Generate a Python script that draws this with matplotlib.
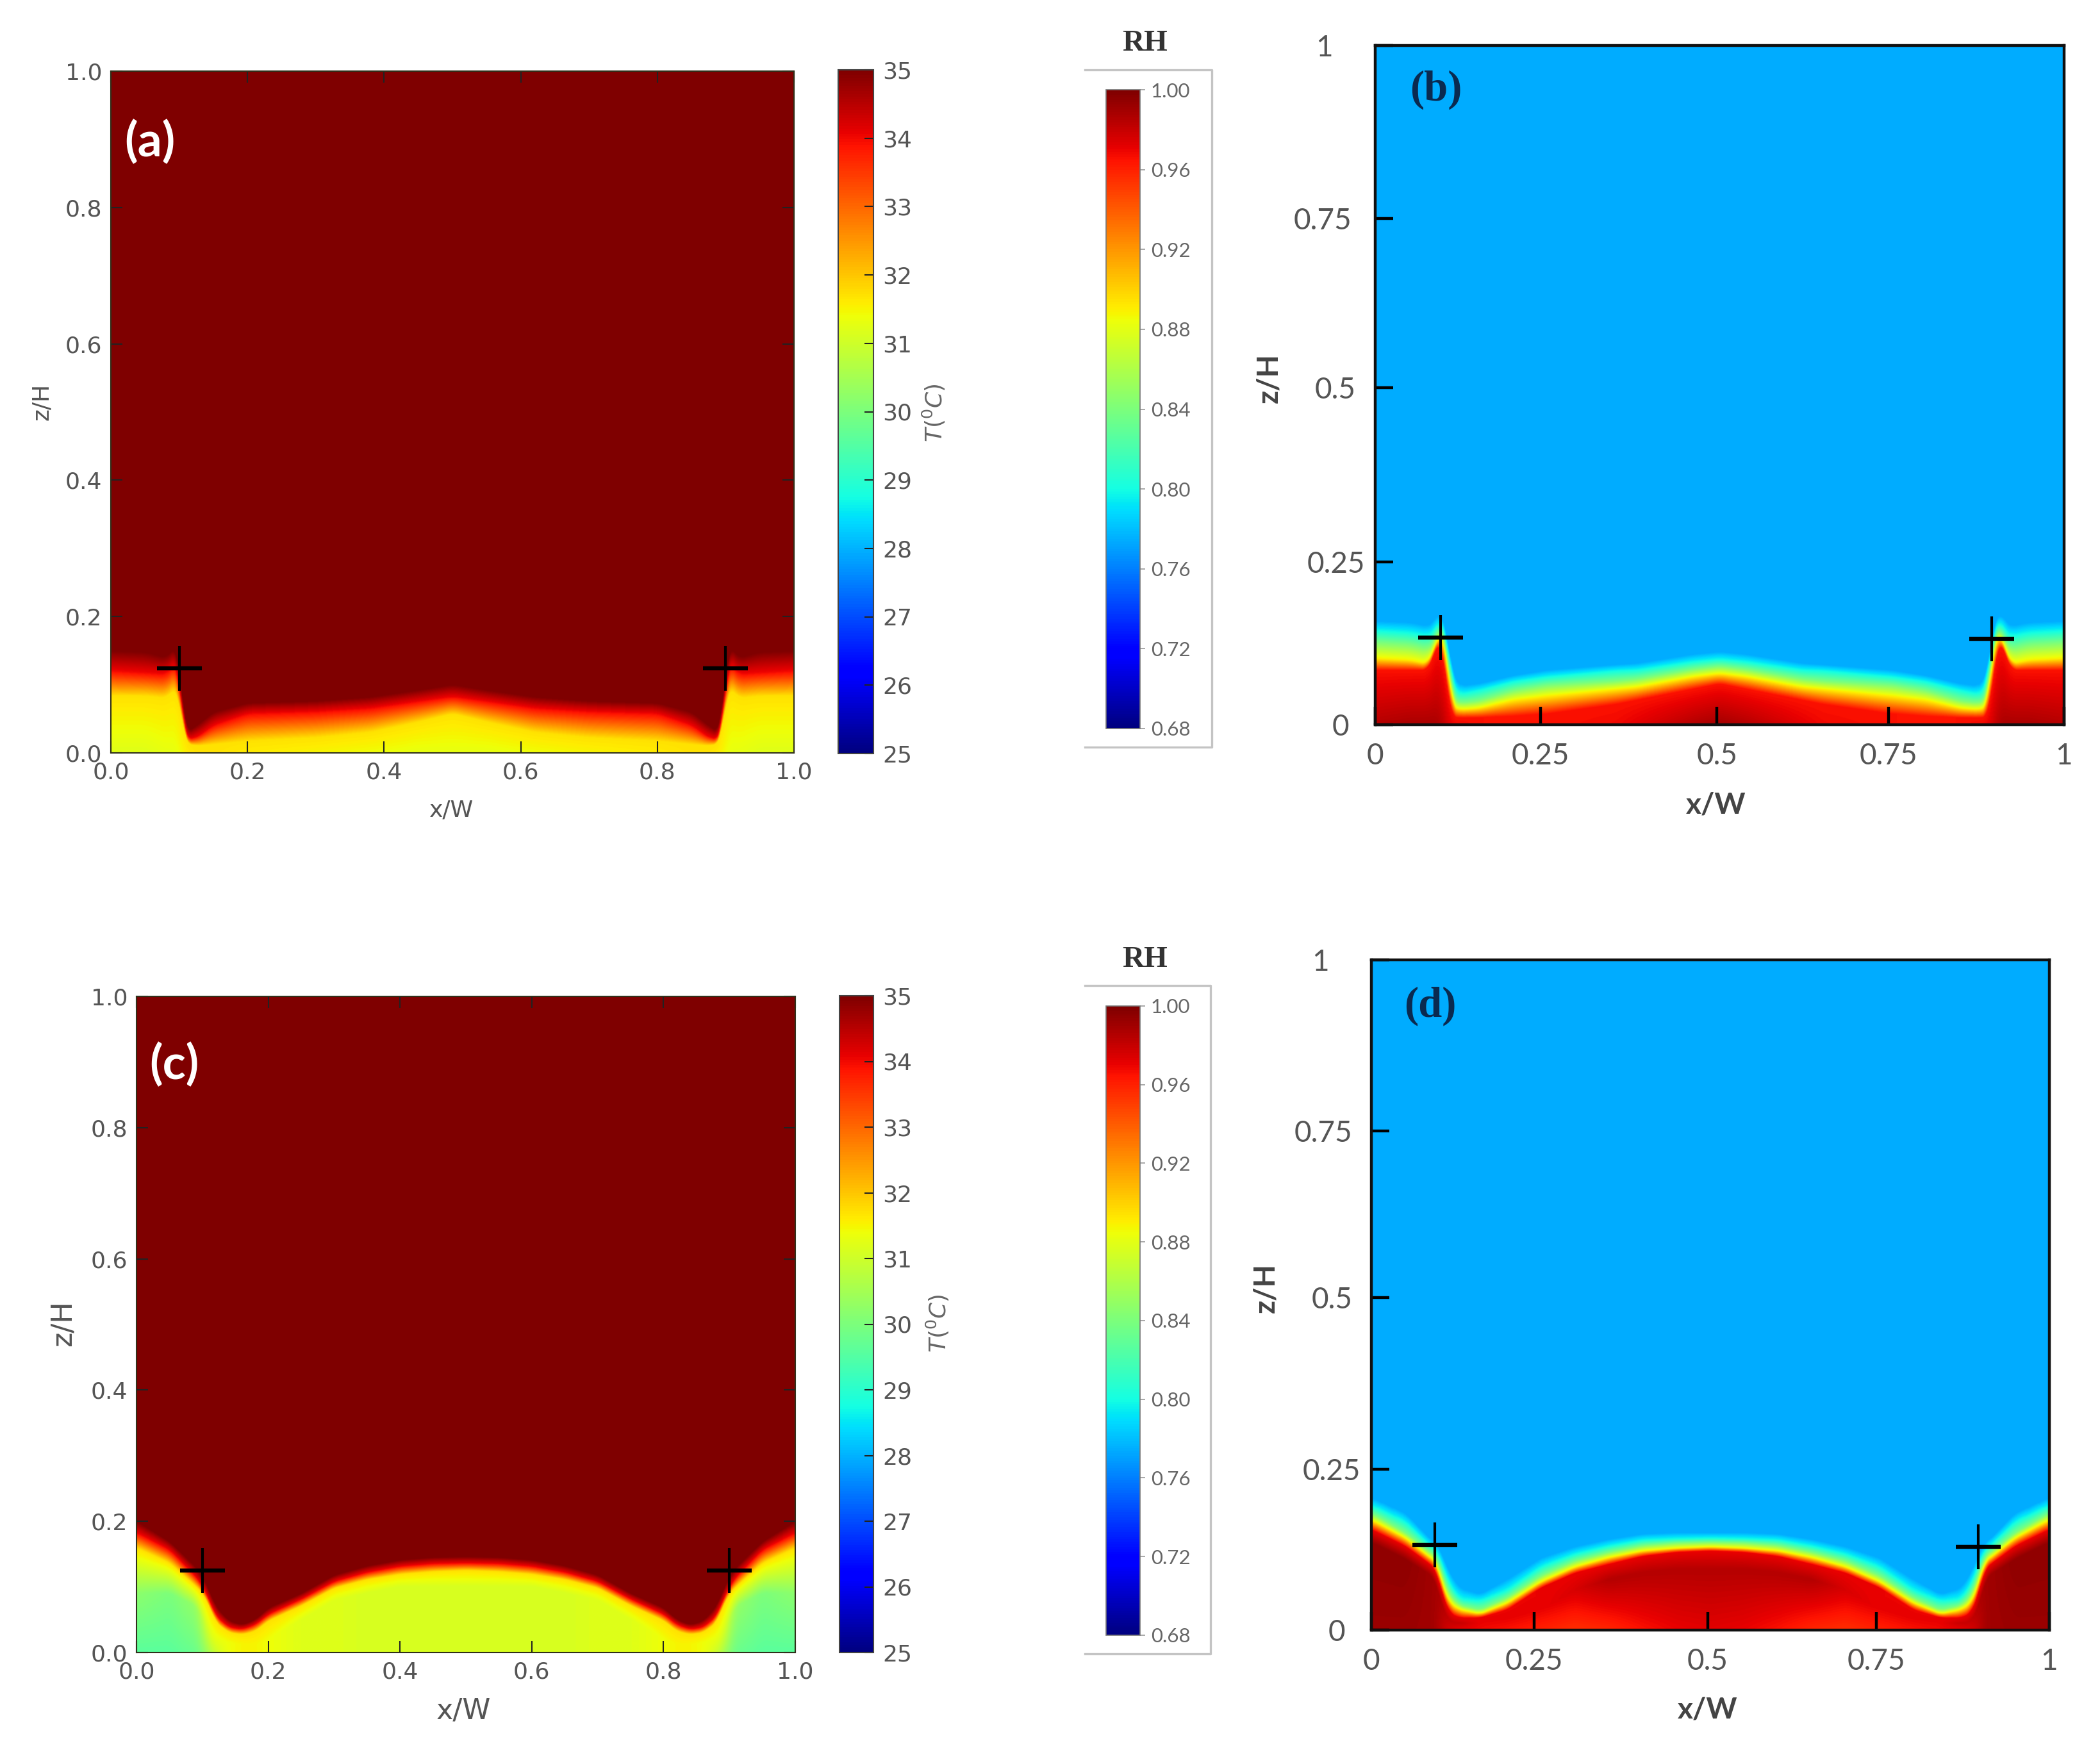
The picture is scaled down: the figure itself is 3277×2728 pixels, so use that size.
import numpy as np
import matplotlib
matplotlib.use("Agg")
import matplotlib.pyplot as plt
from matplotlib.lines import Line2D

W, H = 3277, 2728

# half width profiles, right half is the mirror image
# heights z/H where the field reaches each level
a_x = [0, .05, .08, .09, .095, .10, .105, .11, .125, .15, .2, .3, .38, .45, .5]
a_floor = [31.2, 31.2, 31.3, 31.3, 31.3, 31.4, 31.5, 31.6, 31.7, 31.7, 31.6, 31.5, 31.4, 31.3, 31.3]
a_levels = [31.7, 34, 35]
a_heights = [
    [.083, .083, .08, .09, .095, .08, .03, .013, .01, .012, .017, .022, .03, .045, .057],
    [.12, .117, .115, .125, .135, .11, .04, .02, .022, .04, .057, .06, .065, .075, .082],
    [.15, .148, .14, .15, .16, .13, .06, .03, .04, .06, .073, .076, .082, .092, .10],
]

b_x = [0, .05, .075, .085, .09, .095, .10, .105, .11, .115, .125, .15, .2, .25, .35, .38, .46, .5]
b_floor = [.985, .988, .988, .988, .988, .985, .98, .975, .97, .968, .968, .965, .965, .965, .968, .972, .985, .99]
b_levels = [.965, .89, .84, .80, .775]
b_heights = [
    [.08, .08, .08, .10, .122, .125, .09, .04, .012, .01, .01, .01, .012, .016, .03, .036, .052, .06],
    [.0975, .095, .09, .11, .13, .135, .12, .085, .03, .024, .022, .024, .036, .042, .052, .055, .07, .075],
    [.121, .118, .112, .12, .14, .145, .13, .105, .05, .035, .032, .035, .05, .058, .064, .067, .081, .086],
    [.138, .135, .13, .135, .15, .155, .14, .12, .07, .05, .045, .05, .063, .07, .079, .08, .092, .096],
    [.152, .15, .145, .15, .165, .165, .15, .13, .085, .065, .057, .06, .072, .08, .088, .09, .103, .107],
]

c_x = [0, .05, .09, .10, .11, .12, .14, .16, .18, .2, .25, .3, .35, .4, .45, .5]
c_floor = [29.6, 29.6, 29.8, 30.1, 30.6, 31.0, 31.4, 31.5, 31.5, 31.4, 31.2, 31.2, 31.1, 31.1, 31.1, 31.1]
c_inner = [30.2, 30.0, 30.3, 30.8, 31.2, 31.3, 31.4, 31.5, 31.5, 31.4, 31.2, 31.2, 31.1, 31.1, 31.1, 31.1]
c_inner_z = [.09, .09, .07, .05, .03, .02, .015, .012, .012, .02, .05, .08, .09, .1, .1, .1]
c_levels = [31.7, 34, 35]
c_heights = [
    [.159, .136, .10, .09, .07, .045, .03, .027, .032, .048, .071, .098, .111, .119, .123, .125],
    [.182, .156, .115, .10, .08, .055, .038, .035, .042, .058, .081, .108, .122, .131, .135, .136],
    [.2, .169, .13, .115, .095, .07, .048, .042, .05, .068, .09, .118, .132, .141, .145, .146],
]

d_x = [0, .05, .09, .095, .105, .115, .13, .16, .2, .25, .3, .35, .4, .45, .5]
d_floor = [.992, .992, .99, .988, .98, .975, .97, .968, .965, .96, .955, .958, .965, .97, .972]
d_inner = [.995, .995, .99, .99, .985, .98, .98, .97, .97, .97, .975, .985, .985, .985, .985]
d_inner_z = [.13, .105, .08, .07, .03, .012, .01, .01, .015, .03, .06, .075, .085, .09, .09]
d_levels = [.97, .89, .84, .80, .775]
d_heights = [
    [.15, .125, .095, .09, .05, .025, .018, .018, .03, .063, .085, .098, .11, .116, .118],
    [.164, .137, .105, .103, .065, .04, .03, .024, .04, .072, .094, .108, .118, .122, .124],
    [.174, .145, .113, .112, .08, .052, .037, .03, .048, .081, .103, .116, .126, .13, .131],
    [.185, .161, .122, .122, .095, .068, .046, .043, .059, .094, .113, .125, .134, .136, .137],
    [.197, .174, .132, .132, .11, .085, .062, .053, .075, .107, .124, .135, .143, .145, .145],
]

cross_a = ([.10, .90], [.124, .124])
cross_b = ([.095, .895], [.128, .126])
cross_c = ([.10, .90], [.125, .125])
cross_d = ([.094, .895], [.127, .124])

ticks_t = [25, 26, 27, 28, 29, 30, 31, 32, 33, 34, 35]
ticks_rh = [.68, .72, .76, .80, .84, .88, .92, .96, 1.00]
ticks_ac = [0, .2, .4, .6, .8, 1.0]
# the hand drawn ticks of (b) and (d) sit slightly off the nominal quarters
ticks_bd = [0, .24, .496, .745, 1]
labels_bd = ["0", "0.25", "0.5", "0.75", "1"]

grid_x = np.linspace(0, 1, 800)
grid_z = np.linspace(0, 1, 1600)


def mirror(x, y):
    x = np.array(x)
    y = np.array(y)
    return np.r_[x, 1 - x[-2::-1]], np.r_[y, y[-2::-1]]


def profile(x, y):
    # values along the grid, lightly smoothed so the stations dont show
    xf, yf = mirror(x, y)
    p = np.interp(grid_x, xf, yf)
    pad = np.r_[np.full(6, p[0]), p, np.full(6, p[-1])]
    return np.convolve(pad, np.ones(13) / 13, mode="valid")


def build_field(x, floor, levels, heights, inner=None, inner_z=None):
    stack = [profile(x, h) for h in heights]
    fl = profile(x, floor)
    field = np.zeros((len(grid_z), len(grid_x)))
    if inner is not None:
        inn = profile(x, inner)
        inn_z = profile(x, inner_z)
    for i in range(len(grid_x)):
        zs = [0.0]
        vs = [fl[i]]
        if inner is not None:
            zs.append(inn_z[i])
            vs.append(inn[i])
        for h, v in zip(stack, levels):
            zs.append(max(h[i], zs[-1] + 1e-4))
            vs.append(v)
        field[:, i] = np.interp(grid_z, zs, vs)
    return field


def px_axes(l, t, r, b):
    return fig.add_axes([l / W, 1 - b / H, (r - l) / W, (b - t) / H])


def px_text(x, y, s, **kw):
    fig.text(x / W, 1 - y / H, s, ha="center", va="center", **kw)


def draw_cross(ax, cross):
    # horizontal bar is heavier than the vertical one in the original
    ax.plot(cross[0], cross[1], "_", color="black", ms=50, mew=4.6, ls="none")
    ax.plot(cross[0], cross[1], "|", color="black", ms=50, mew=3.0, ls="none")


def old_panel(box, field, cross, cbox, fs_label, zlab_xy, xlab_xy, tlab_xy, letter, letter_xy):
    ax = px_axes(*box)
    im = ax.imshow(field, origin="lower", extent=[0, 1, 0, 1], aspect="auto",
                   cmap="jet", vmin=25, vmax=35, interpolation="bilinear")
    draw_cross(ax, cross)
    ax.set_xlim(0, 1)
    ax.set_ylim(0, 1)
    ax.set_xticks(ticks_ac)
    ax.set_yticks(ticks_ac)
    ax.set_xticklabels(["%.1f" % t for t in ticks_ac])
    ax.set_yticklabels(["%.1f" % t for t in ticks_ac])
    ax.tick_params(direction="in", length=13, width=1.5, labelsize=26, labelcolor="#555555",
                   color="#222222", pad=10, top=True, right=True)
    for s in ax.spines.values():
        s.set_linewidth(1.5)
        s.set_color("#30301a")
    cax = px_axes(*cbox)
    cb = fig.colorbar(im, cax=cax, ticks=ticks_t)
    cb.ax.tick_params(direction="in", length=10, width=1.5, labelsize=26, labelcolor="#555555",
                      color="#222222", pad=10)
    cb.outline.set_linewidth(1.5)
    cb.outline.set_edgecolor("#444444")
    px_text(*zlab_xy, "z/H", rotation=90, fontsize=fs_label, color="#555555")
    px_text(*xlab_xy, "x/W", fontsize=fs_label, color="#555555")
    px_text(*tlab_xy, r"$T(^{0}C)$", rotation=90, fontsize=26, color="#666666")
    px_text(*letter_xy, letter, fontsize=54, color="white", fontweight="bold", family="Lato")


def rh_panel(box, field, cross, cbox, frame, title_xy, zlab_xy, xlab_xy, letter, letter_xy, pads):
    ax = px_axes(*box)
    im = ax.imshow(field, origin="lower", extent=[0, 1, 0, 1], aspect="auto",
                   cmap="jet", vmin=.68, vmax=1.0, interpolation="bilinear")
    draw_cross(ax, cross)
    ax.set_xlim(0, 1)
    ax.set_ylim(0, 1)
    ax.set_xticks(ticks_bd)
    ax.set_yticks(ticks_bd)
    ax.set_xticklabels(labels_bd)
    ax.set_yticklabels(labels_bd, ha="center")
    ax.tick_params(direction="in", length=20, width=3.2, labelsize=33, labelcolor="#555555",
                   color="black", labelfontfamily="Lato")
    ax.tick_params(axis="x", pad=20)
    for t, p in zip(ax.yaxis.get_major_ticks(), pads):
        t.set_pad(p)
    for s in ax.spines.values():
        s.set_linewidth(3.2)
        s.set_color("#101010")
    cax = px_axes(*cbox)
    cb = fig.colorbar(im, cax=cax, ticks=ticks_rh)
    cb.ax.set_yticklabels(["%.2f" % t for t in ticks_rh])
    cb.ax.tick_params(length=6, width=1.2, labelsize=22.5, labelcolor="#666666",
                      color="#999999", pad=6, labelfontfamily="Lato")
    cb.outline.set_linewidth(1.2)
    cb.outline.set_edgecolor("#777777")
    # box round the colorbar, open on the left
    l, t, r, b = frame
    fig.add_artist(Line2D([l / W, r / W, r / W, l / W],
                          [1 - t / H, 1 - t / H, 1 - b / H, 1 - b / H],
                          color="#c4c4c4", lw=2.4))
    px_text(*title_xy, "RH", fontsize=34, fontweight="bold", family="Liberation Serif", color="#333333")
    px_text(*zlab_xy, "z/H", rotation=90, fontsize=33, fontweight="bold", family="Lato", color="#444444")
    px_text(*xlab_xy, "x/W", fontsize=33, fontweight="bold", family="Lato", color="#444444")
    px_text(*letter_xy, letter, fontsize=48, fontweight="bold", family="Liberation Serif", color="#0a2a50")


fig = plt.figure(figsize=(W / 100, H / 100), dpi=100)

old_panel((173, 111, 1239, 1175), build_field(a_x, a_floor, a_levels, a_heights), cross_a,
          (1308, 109, 1363, 1176), 26, (65, 627), (705, 1264), (1457, 644), "(a)", (234, 222))
old_panel((213, 1555, 1241, 2579), build_field(c_x, c_floor, c_levels, c_heights, c_inner, c_inner_z), cross_c,
          (1310, 1554, 1363, 2579), 32, (98, 2065), (723, 2670), (1463, 2065), "(c)", (272, 1662))

rh_panel((2146, 71, 3221, 1131), build_field(b_x, b_floor, b_levels, b_heights), cross_b,
         (1726, 140, 1779, 1137), (1693, 109, 1891, 1166), (1787, 68), (1980, 590), (2678, 1256),
         "(b)", (2241, 140), [39, 44, 45, 59, 57])
rh_panel((2140, 1498, 3198, 2544), build_field(d_x, d_floor, d_levels, d_heights, d_inner, d_inner_z), cross_d,
         (1726, 1570, 1779, 2552), (1693, 1538, 1889, 2581), (1787, 1498), (1975, 2010), (2665, 2668),
         "(d)", (2232, 1570), [39, 45, 44, 54, 57])

fig.savefig("out.png", dpi=100)
